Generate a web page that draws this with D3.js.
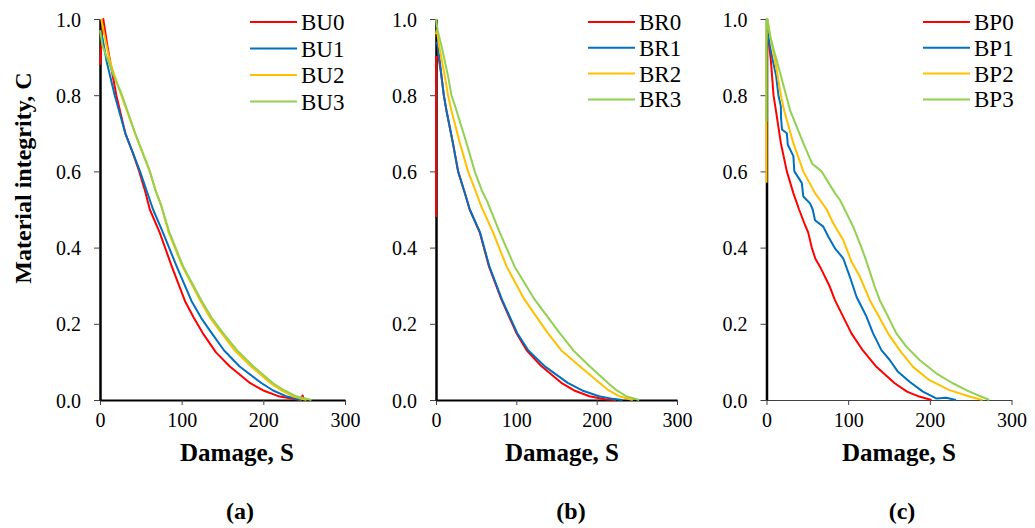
<!DOCTYPE html>
<html><head><meta charset="utf-8">
<script src="https://cdn.jsdelivr.net/npm/d3@7"></script>
<style>
html,body{margin:0;padding:0;background:#fff;}
svg text{font-family:"Liberation Serif","Times New Roman",serif;fill:#000;}
</style></head>
<body><svg id="chart" width="1035" height="528"></svg>
<script>
// ---------- data ----------
const xTicks = [0, 100, 200, 300];
const yTicks = [0, 0.2, 0.4, 0.6, 0.8, 1.0];
const panelLabels = ["(a)", "(b)", "(c)"];
const xTitle = "Damage, S";
const yTitle = "Material integrity, C";
const seriesColors = ["#FF0000", "#0070C0", "#FFC000", "#92D050"];

const namesA = ["BU0", "BU1", "BU2", "BU3"];
const BU0 = [[0,0.88],[4,1.0],[9,0.93],[14,0.87],[20,0.80],[31,0.70],[40,0.65],[48,0.60],[55,0.55],[61,0.50],[73,0.44],[88,0.35],[104,0.26],[115,0.215],[126,0.175],[142,0.125],[159,0.088],[184,0.044],[200,0.025],[220,0.009],[240,0.002],[246,0],[248,0.012],[250,0]];
const BU1 = [[0,0.97],[3,0.95],[8,0.89],[18,0.80],[31,0.70],[40,0.65],[49,0.60],[57,0.55],[65,0.50],[77,0.44],[94,0.35],[112,0.26],[124,0.215],[137,0.175],[152,0.13],[171,0.088],[198,0.044],[212,0.025],[229,0.009],[247,0]];
const BU2 = [[1.5,1.0],[7,0.94],[12,0.89],[18,0.85],[26,0.80],[43,0.70],[52,0.65],[61,0.60],[68,0.55],[75,0.51],[84,0.44],[101,0.35],[123,0.26],[135,0.215],[149,0.175],[165,0.13],[185,0.088],[209,0.044],[222,0.025],[237,0.009],[253,0]];
const BU3 = [[0,0.97],[3,0.93],[10,0.89],[17,0.85],[27,0.80],[43,0.70],[52,0.65],[61,0.60],[68,0.55],[75,0.51],[85,0.44],[102,0.35],[124.5,0.26],[137,0.215],[151,0.175],[168,0.13],[188,0.088],[212,0.044],[226,0.025],[241,0.009],[259,0]];

const namesB = ["BR0", "BR1", "BR2", "BR3"];
const BR0 = [[0,0.48],[0,0.90],[3,0.90],[4.7,0.88],[6.8,0.85],[9.7,0.80],[13,0.76],[21,0.675],[27.5,0.60],[35.8,0.544],[42,0.50],[54.4,0.44],[66,0.35],[81.4,0.264],[100,0.176],[113,0.13],[131,0.089],[156,0.045],[172,0.025],[191,0.01],[210,0.002],[224,0]];
const BR1 = [[0.5,0.94],[2,0.93],[4.7,0.89],[6.8,0.85],[9.7,0.80],[13,0.76],[21,0.675],[27.5,0.60],[35.8,0.544],[42,0.50],[54.8,0.44],[66.5,0.35],[82,0.264],[101,0.176],[115,0.13],[135,0.089],[164,0.045],[182,0.025],[203,0.01],[220,0.003],[232,0]];
const BR2 = [[0,0.96],[1,0.97],[3.9,0.93],[10.9,0.85],[15,0.80],[19.2,0.76],[29.6,0.675],[39.9,0.60],[49,0.55],[56,0.51],[71,0.44],[88,0.35],[110,0.264],[139,0.176],[156,0.13],[178.6,0.089],[203.5,0.045],[215,0.025],[228,0.01],[245,0]];
const BR3 = [[0,1.0],[2,0.97],[6.8,0.93],[15,0.85],[19.2,0.80],[25.5,0.76],[37.9,0.675],[48.2,0.60],[57,0.55],[64,0.52],[79.3,0.44],[97.9,0.35],[122.7,0.264],[153.8,0.176],[171,0.13],[191,0.089],[213.8,0.045],[225,0.025],[236.6,0.01],[253,0]];

const namesC = ["BP0", "BP1", "BP2", "BP3"];
const BP0 = [[0.5,0.99],[1.2,0.97],[5.4,0.89],[8.6,0.80],[11.5,0.76],[17.6,0.674],[24.9,0.60],[32.9,0.543],[39.9,0.50],[47,0.46],[51,0.44],[55.4,0.40],[60,0.37],[65.5,0.35],[77,0.30],[83.8,0.262],[97,0.205],[104,0.175],[118,0.13],[134.6,0.087],[157,0.044],[172,0.022],[187,0.009],[202,0]];
const BP1 = [[0.5,0.98],[4,0.93],[7.8,0.89],[11.8,0.85],[14.6,0.80],[17.6,0.77],[17.8,0.74],[19,0.71],[24.9,0.70],[26.1,0.67],[32.9,0.64],[34.1,0.60],[43.2,0.57],[45.1,0.534],[53.3,0.516],[56.6,0.50],[59.4,0.472],[69.5,0.455],[75.6,0.429],[83.8,0.398],[93.9,0.372],[102,0.324],[110.2,0.271],[122.4,0.219],[130.5,0.175],[140.7,0.131],[150.9,0.105],[161,0.074],[175.2,0.048],[191.5,0.022],[207.8,0.004],[220,0.006],[232,0]];
const BP2 = [[0,0.57],[0,0.97],[1,1.0],[5,0.95],[10.6,0.89],[17.6,0.80],[21.6,0.76],[32.9,0.674],[45.1,0.60],[59.4,0.543],[65.5,0.525],[73.7,0.50],[81.7,0.464],[93.9,0.42],[104.1,0.363],[114.3,0.324],[126.5,0.262],[136.6,0.223],[148.8,0.175],[163,0.131],[179.3,0.087],[199.6,0.052],[224,0.026],[248.4,0.009],[264.6,0]];
const BP3 = [[0,0.73],[0,1.0],[1,1.0],[5,0.95],[12.7,0.89],[24,0.80],[28.9,0.76],[45.1,0.674],[56,0.62],[67.5,0.60],[83.8,0.543],[90,0.525],[98,0.49],[106.1,0.455],[114.3,0.411],[120.4,0.376],[126.5,0.337],[132.6,0.297],[138.7,0.262],[148.8,0.219],[159,0.175],[171.2,0.14],[187.4,0.105],[207.8,0.07],[228,0.044],[248.4,0.022],[272.8,0]];

// ---------- layout ----------
const panels = [
  {names: namesA, series: [BU0, BU1, BU2, BU3], x0: 100, x1: 345, legX: 250, legDy: 26.5, titleX: 237, labelX: 240, xAxisW: 2, xAxisC: "#000"},
  {names: namesB, series: [BR0, BR1, BR2, BR3], x0: 436, x1: 677, legX: 588, legDy: 25.8, titleX: 562, labelX: 571, xAxisW: 2, xAxisC: "#000"},
  {names: namesC, series: [BP0, BP1, BP2, BP3], x0: 766.5, x1: 1011.5, legX: 923, legDy: 25.8, titleX: 899, labelX: 902, xAxisW: 1, xAxisC: "#404040"}
];
const yTop = 19, yBot = 400;

const svg = d3.select("#chart");
const y = d3.scaleLinear().domain([0, 1]).range([yBot, yTop]);

panels.forEach((p, pi) => {
  const x = d3.scaleLinear().domain([0, 300]).range([p.x0, p.x1]);
  const g = svg.append("g");

  // x axis
  const gx = g.append("g").attr("transform", `translate(0,${yBot})`)
    .call(d3.axisBottom(x).tickValues(xTicks).tickSize(5).tickSizeOuter(0).tickFormat(d3.format("d")));
  gx.select(".domain").attr("stroke", p.xAxisC).attr("stroke-width", p.xAxisW);
  gx.selectAll(".tick line").attr("stroke", "#404040").attr("stroke-width", 1);
  gx.selectAll(".tick text").attr("y", 13).attr("dy", "0.71em").attr("font-size", 20).attr("fill", "#000")
    .attr("font-family", "Liberation Serif");

  // y axis
  const gy = g.append("g").attr("transform", `translate(${p.x0},0)`)
    .call(d3.axisLeft(y).tickValues(yTicks).tickSize(6).tickSizeOuter(0).tickFormat(d3.format(".1f")));
  gy.select(".domain").attr("stroke", "#000").attr("stroke-width", 2.5);
  gy.selectAll(".tick line").attr("stroke", "#404040").attr("stroke-width", 1);
  gy.selectAll(".tick text").attr("x", -19).attr("dy", "0.35em").attr("font-size", 20).attr("fill", "#000")
    .attr("font-family", "Liberation Serif");

  // series
  const line = d3.line().x(d => x(d[0])).y(d => y(d[1]));
  p.series.forEach((s, si) => {
    g.append("path").datum(s).attr("d", line)
      .attr("fill", "none").attr("stroke", seriesColors[si]).attr("stroke-width", 2)
      .attr("stroke-linejoin", "round");
  });

  // legend
  p.names.forEach((n, i) => {
    const ly = 22 + i * p.legDy;
    g.append("line").attr("x1", p.legX).attr("x2", p.legX + 47).attr("y1", ly).attr("y2", ly)
      .attr("stroke", seriesColors[i]).attr("stroke-width", 2);
    g.append("text").attr("x", p.legX + 51).attr("y", ly).attr("dy", "0.35em")
      .attr("font-size", 23).text(n);
  });

  // x title
  g.append("text").attr("x", p.titleX).attr("y", 461).attr("text-anchor", "middle")
    .attr("font-size", 25).attr("font-weight", "bold").text(xTitle);
  // panel label
  g.append("text").attr("x", p.labelX).attr("y", 519).attr("text-anchor", "middle")
    .attr("font-size", 24).attr("font-weight", "bold").text(panelLabels[pi]);
});

// y title
svg.append("text").attr("transform", "translate(31,178) rotate(-90)").attr("text-anchor", "middle")
  .attr("font-size", 24).attr("font-weight", "bold").text(yTitle);
</script></body></html>
